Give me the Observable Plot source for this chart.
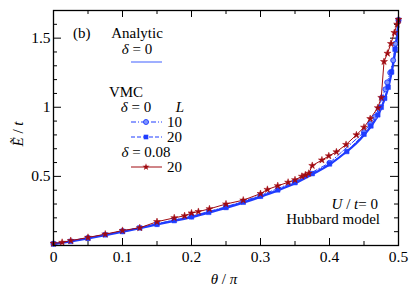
<!DOCTYPE html>
<html><head><meta charset="utf-8">
<script src="https://cdn.jsdelivr.net/npm/d3@7"></script>
<script src="https://cdn.jsdelivr.net/npm/@observablehq/plot@0.6"></script>
<style>
html,body{margin:0;padding:0;background:#fff;}
</style>
</head><body>
<div id="chart"></div>
<script>
// Analytic, delta = 0
const thetaAnalytic = [0,0.025,0.05,0.075,0.1,0.125,0.15,0.175,0.2,0.225,0.25,0.275,0.3,0.325,0.35,0.375,0.4,0.42,0.44,0.45,0.46,0.47,0.475,0.48,0.485,0.49,0.493,0.496,0.498,0.5];
const eAnalytic     = [0.01,0.03,0.052,0.075,0.1,0.125,0.152,0.178,0.205,0.238,0.272,0.31,0.352,0.398,0.45,0.515,0.585,0.66,0.745,0.8,0.86,0.94,0.995,1.06,1.14,1.25,1.33,1.43,1.51,1.625];
// VMC delta = 0, L = 10
const thetaL10 = [0,0.05,0.1,0.15,0.2,0.25,0.3,0.35,0.4,0.45,0.459,0.466,0.4715,0.476,0.481,0.4836,0.488,0.4923,0.4955,0.5];
const eL10     = [0.012,0.055,0.104,0.157,0.212,0.28,0.362,0.462,0.598,0.82,0.88,0.93,0.99,1.07,1.13,1.18,1.25,1.34,1.46,1.63];
// VMC delta = 0, L = 20
const thetaL20 = [0,0.025,0.05,0.075,0.1,0.125,0.15,0.175,0.2,0.225,0.25,0.275,0.3,0.325,0.35,0.375,0.4,0.425,0.45,0.46,0.47,0.475,0.48,0.485,0.49,0.495,0.5];
const eL20     = [0.012,0.03,0.052,0.077,0.101,0.127,0.153,0.18,0.207,0.24,0.275,0.313,0.356,0.402,0.455,0.52,0.59,0.68,0.805,0.865,0.945,1.0,1.065,1.145,1.255,1.42,1.63];
// VMC delta = 0.08, L = 20
const thetaD08 = [0,0.0125,0.025,0.05,0.075,0.1,0.125,0.15,0.175,0.19,0.2,0.21,0.226,0.25,0.275,0.3,0.31,0.325,0.34,0.35,0.36,0.365,0.37,0.375,0.389,0.399,0.41,0.424,0.439,0.45,0.459,0.47,0.475,0.479,0.484,0.489,0.494,0.498,0.5];
const eD08     = [0.015,0.022,0.035,0.058,0.082,0.108,0.128,0.172,0.2,0.215,0.235,0.245,0.265,0.3,0.328,0.375,0.405,0.432,0.457,0.475,0.5,0.51,0.522,0.578,0.618,0.648,0.677,0.73,0.8,0.855,0.917,0.996,1.07,1.33,1.39,1.46,1.54,1.6,1.635];

const xMajor = [0,0.1,0.2,0.3,0.4,0.5];
const xMinor = [0.05,0.15,0.25,0.35,0.45];
const yMajor = [0.5,1,1.5];
const yMinor = [0.1,0.2,0.3,0.4,0.6,0.7,0.8,0.9,1.1,1.2,1.3,1.4,1.6];

const zip = (xs, ys) => xs.map((x, i) => ({theta: x, e: ys[i]}));
const analytic = zip(thetaAnalytic, eAnalytic);
const l10 = zip(thetaL10, eL10);
const l20 = zip(thetaL20, eL20);
const d08 = zip(thetaD08, eD08);

const FONT = "Liberation Serif";
const W = 414, H = 291, mL = 53, mR = 16, mT = 10, mB = 46;
const pw = W - mL - mR, ph = H - mT - mB;
const BLUE = "#1f3cff", LBLUE = "#7f95ff", RED = "#a00a10";
const RC = 2.5, RS = 2.6, RST = 2.2;

const chart = Plot.plot({
  width: W, height: H,
  marginLeft: mL, marginRight: mR, marginTop: mT, marginBottom: mB,
  x: {domain: [0, 0.5]},
  y: {domain: [0, 1.7]},
  marks: [
    Plot.ruleX(xMajor, {x: d => d, insetTop: ph - 7, stroke: "black"}),
    Plot.ruleX(xMinor, {x: d => d, insetTop: ph - 4, stroke: "black"}),
    Plot.ruleX(xMajor, {x: d => d, insetBottom: ph - 7, stroke: "black"}),
    Plot.ruleX(xMinor, {x: d => d, insetBottom: ph - 4, stroke: "black"}),
    Plot.ruleY(yMajor, {y: d => d, insetRight: pw - 8, stroke: "black"}),
    Plot.ruleY(yMinor, {y: d => d, insetRight: pw - 4, stroke: "black"}),
    Plot.ruleY(yMajor, {y: d => d, insetLeft: pw - 8, stroke: "black"}),
    Plot.ruleY(yMinor, {y: d => d, insetLeft: pw - 4, stroke: "black"}),
    Plot.axisX({ticks: xMajor, tickSize: 0, tickPadding: 5, tickFormat: d => String(d), label: null, fontSize: 15.5}),
    Plot.axisY({ticks: yMajor, tickSize: 0, tickPadding: 3, tickFormat: d => String(d), label: null, fontSize: 15.5}),
    Plot.line(analytic, {x: "theta", y: "e", stroke: BLUE, strokeWidth: 2.2, curve: "monotone-x"}),
    Plot.line(l10, {x: "theta", y: "e", stroke: BLUE, strokeWidth: 1, strokeDasharray: "5,2,1,2"}),
    Plot.line(l20, {x: "theta", y: "e", stroke: BLUE, strokeWidth: 1, strokeDasharray: "4,2"}),
    Plot.line(d08, {x: "theta", y: "e", stroke: RED, strokeWidth: 1}),
    Plot.dot(l10, {x: "theta", y: "e", r: RC, symbol: "circle", fill: LBLUE, stroke: BLUE, strokeWidth: 0.9}),
    Plot.dot(l20, {x: "theta", y: "e", r: RS, symbol: "square", fill: BLUE, stroke: BLUE, strokeWidth: 0.5}),
    Plot.dot(d08, {x: "theta", y: "e", r: RST, symbol: "star", fill: RED, stroke: RED, strokeWidth: 0.5}),
    Plot.frame({stroke: "black", strokeWidth: 1.3})
  ]
});

const svg = d3.select(chart);
svg.attr("font-family", FONT);
svg.selectAll("text").attr("font-family", FONT);
const g = svg.append("g").attr("font-family", FONT).attr("font-size", 15).attr("fill", "black");
function txt(x, y, parts, anchor = "start") {
  const t = g.append("text").attr("x", x).attr("y", y).attr("text-anchor", anchor).attr("font-family", FONT);
  for (const [s, it] of parts) {
    const ts = t.append("tspan").text(s);
    if (it) ts.attr("font-style", "italic");
  }
  return t;
}
txt(73, 38, [["(b)", false]]);
txt(137, 38, [["Analytic", false]], "middle");
txt(137, 54, [["δ", true], [" = 0", false]], "middle");
g.append("line").attr("x1", 131).attr("x2", 162).attr("y1", 62).attr("y2", 62).attr("stroke", LBLUE).attr("stroke-width", 1.5);
txt(126, 97, [["VMC", false]], "middle");
txt(136, 112, [["δ", true], [" = 0", false]], "middle");
txt(180, 112, [["L", true]], "middle");
g.append("line").attr("x1", 131).attr("x2", 162).attr("y1", 122).attr("y2", 122).attr("stroke", BLUE).attr("stroke-dasharray", "5,2,1,2");
g.append("path").attr("d", d3.symbol(d3.symbolCircle, RC*RC*Math.PI)()).attr("transform", "translate(146,122)").attr("fill", LBLUE).attr("stroke", BLUE).attr("stroke-width", 0.9);
txt(167, 127, [["10", false]]);
g.append("line").attr("x1", 131).attr("x2", 162).attr("y1", 137).attr("y2", 137).attr("stroke", BLUE).attr("stroke-dasharray", "4,2");
g.append("path").attr("d", d3.symbol(d3.symbolSquare, RS*RS*Math.PI)()).attr("transform", "translate(146,137)").attr("fill", BLUE);
txt(167, 142, [["20", false]]);
txt(146, 157, [["δ", true], [" = 0.08", false]], "middle");
g.append("line").attr("x1", 131).attr("x2", 162).attr("y1", 167).attr("y2", 167).attr("stroke", RED);
g.append("path").attr("d", d3.symbol(d3.symbolStar, RST*RST*Math.PI)()).attr("transform", "translate(146,167)").attr("fill", RED);
txt(167, 172, [["20", false]]);
txt(378, 209, [["U", true], [" / ", false], ["t", true], ["= 0", false]], "end");
txt(380, 224, [["Hubbard model", false]], "end");
txt(224, 284, [["θ", true], [" / ", false], ["π", true]], "middle");
txt(0, 0, [["E\u0303", true], [" / ", false], ["t", true]], "middle").attr("transform", "translate(23,134) rotate(-90)");

document.getElementById("chart").appendChild(chart);
</script>
</body></html>
